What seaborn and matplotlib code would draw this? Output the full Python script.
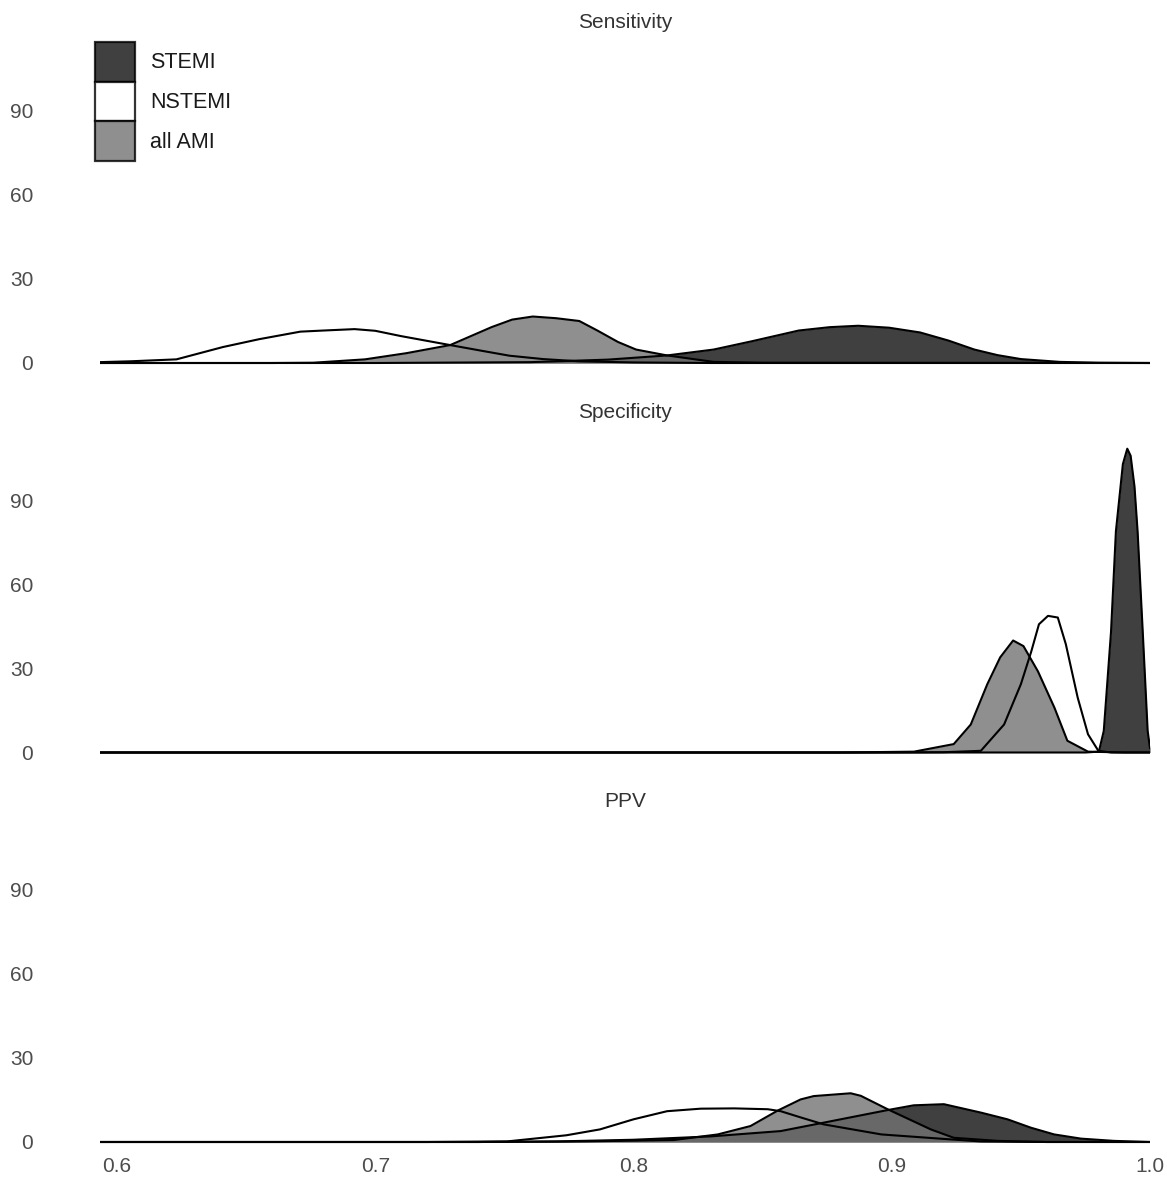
import seaborn as sns
import matplotlib.pyplot as plt
from matplotlib.patches import Patch

# density curves (x = metric value, y = density)
sens_stemi_x = [0.593, 0.70, 0.76, 0.79, 0.813, 0.831, 0.846, 0.864, 0.876, 0.887, 0.899, 0.911, 0.922, 0.932, 0.941, 0.950, 0.965, 0.98, 1.0]
sens_stemi_y = [0, 0, 0.3, 1.2, 2.7, 4.8, 7.8, 11.6, 12.8, 13.3, 12.6, 10.9, 8.0, 4.8, 2.8, 1.4, 0.4, 0.1, 0]
sens_nstemi_x = [0.593, 0.605, 0.623, 0.641, 0.655, 0.671, 0.680, 0.692, 0.700, 0.710, 0.729, 0.741, 0.752, 0.765, 0.779, 0.80, 0.83, 1.0]
sens_nstemi_y = [0.3, 0.6, 1.3, 5.7, 8.5, 11.2, 11.6, 12.1, 11.5, 9.6, 6.4, 4.4, 2.6, 1.4, 0.6, 0.2, 0, 0]
sens_all_x = [0.593, 0.66, 0.676, 0.696, 0.712, 0.729, 0.745, 0.753, 0.761, 0.770, 0.779, 0.786, 0.794, 0.801, 0.813, 0.831, 0.85, 1.0]
sens_all_y = [0, 0, 0.1, 1.3, 3.5, 6.4, 12.8, 15.5, 16.6, 16.0, 15.0, 11.6, 7.5, 4.8, 2.7, 0.4, 0.1, 0]

spec_stemi_x = [0.593, 0.975, 0.9802, 0.9821, 0.9849, 0.9868, 0.9895, 0.9912, 0.9925, 0.9940, 0.9952, 0.9972, 0.9991, 1.0]
spec_stemi_y = [0, 0, 0.3, 7.7, 43, 79, 103, 108.5, 106, 95, 79, 43, 7.7, 1.5]
spec_nstemi_x = [0.593, 0.90, 0.92, 0.9345, 0.9435, 0.950, 0.954, 0.957, 0.9605, 0.9643, 0.9674, 0.972, 0.976, 0.980, 0.985, 1.0]
spec_nstemi_y = [0, 0, 0.1, 0.6, 10, 24.4, 36, 45.8, 48.8, 48.2, 38.7, 19.6, 6.5, 0.6, 0, 0]
spec_all_x = [0.593, 0.88, 0.9086, 0.924, 0.9306, 0.937, 0.942, 0.947, 0.951, 0.9566, 0.963, 0.968, 0.976, 0.99, 1.0]
spec_all_y = [0, 0, 0.3, 3, 10, 24.4, 34, 40, 38, 29, 16, 4.2, 0.3, 0, 0]

ppv_stemi_x = [0.593, 0.74, 0.77, 0.80, 0.83, 0.857, 0.8736, 0.8984, 0.9085, 0.9202, 0.9345, 0.9448, 0.9539, 0.9629, 0.9733, 0.986, 1.0]
ppv_stemi_y = [0, 0, 0.2, 0.8, 2.0, 3.9, 6.9, 11.4, 13.1, 13.5, 10.5, 8.1, 5.1, 2.7, 1.2, 0.4, 0]
ppv_nstemi_x = [0.593, 0.72, 0.751, 0.774, 0.787, 0.800, 0.813, 0.826, 0.839, 0.852, 0.857, 0.865, 0.8736, 0.896, 0.9217, 0.9345, 0.96, 1.0]
ppv_nstemi_y = [0, 0, 0.2, 2.4, 4.5, 8.1, 11.0, 11.9, 12.0, 11.7, 11.0, 8.7, 6.3, 2.7, 1.0, 0.2, 0, 0]
ppv_all_x = [0.593, 0.74, 0.78, 0.8155, 0.8326, 0.8453, 0.8558, 0.8647, 0.8698, 0.8841, 0.888, 0.8984, 0.9151, 0.924, 0.941, 0.96, 1.0]
ppv_all_y = [0, 0, 0.2, 0.7, 2.7, 5.7, 11.2, 15.2, 16.4, 17.4, 16.5, 11.7, 4.5, 1.5, 0.4, 0, 0]

groups = ['STEMI', 'NSTEMI', 'all AMI']
fills = {'STEMI': '#101010', 'NSTEMI': '#ffffff', 'all AMI': '#737373'}
panels = [
    ('Sensitivity', {'STEMI': (sens_stemi_x, sens_stemi_y), 'NSTEMI': (sens_nstemi_x, sens_nstemi_y), 'all AMI': (sens_all_x, sens_all_y)}),
    ('Specificity', {'STEMI': (spec_stemi_x, spec_stemi_y), 'NSTEMI': (spec_nstemi_x, spec_nstemi_y), 'all AMI': (spec_all_x, spec_all_y)}),
    ('PPV', {'STEMI': (ppv_stemi_x, ppv_stemi_y), 'NSTEMI': (ppv_nstemi_x, ppv_nstemi_y), 'all AMI': (ppv_all_x, ppv_all_y)}),
]
yticks = [0, 30, 60, 90]
xticks = [0.6, 0.7, 0.8, 0.9, 1.0]
xticklabels = ['0.6', '0.7', '0.8', '0.9', '1.0']

sns.set_theme(style='white')
plt.rcParams['font.family'] = ['Liberation Sans', 'DejaVu Sans']

fig = plt.figure(figsize=(11.67, 11.88), dpi=100)
bottoms = [0.69091, 0.36305, 0.03519]
draw_order = ['NSTEMI', 'STEMI', 'all AMI']

for i, (title, data) in enumerate(panels):
    ax = fig.add_axes([0.08569, bottoms[i], 0.89974, 0.27458])
    for g in draw_order:
        xs, ys = data[g]
        ax.fill_between(xs, 0, ys, color=fills[g], alpha=0.8, lw=0)
        sns.lineplot(x=xs, y=ys, ax=ax, color='black', lw=1.5, sort=False)
    ax.set_xlim(0.5934, 1.0)
    ax.set_ylim(-1.5, 115)
    ax.set_yticks(yticks)
    ax.set_yticklabels([str(t) for t in yticks])
    ax.tick_params(axis='y', length=0, pad=48, labelsize=15, labelcolor='#4d4d4d')
    if i == 2:
        ax.set_xticks(xticks)
        ax.set_xticklabels(xticklabels)
        ax.tick_params(axis='x', length=0, pad=8, labelsize=15, labelcolor='#4d4d4d')
    else:
        ax.set_xticks([])
    for s in ax.spines.values():
        s.set_visible(False)
    ax.set_title(title, fontsize=15, color='#333333', pad=9)
    ax.set_xlabel('')
    ax.set_ylabel('')

    if i == 0:
        handles = [Patch(facecolor=fills[g], edgecolor='black', alpha=0.8, lw=1.6, label=g) for g in groups]
        leg = ax.legend(handles=handles, loc='upper left', bbox_to_anchor=(0.0814, 0.9646),
                        bbox_transform=fig.transFigure, frameon=False, fontsize=15.5,
                        handlelength=1.85, handleheight=2.45, labelspacing=0.0,
                        handletextpad=0.7, borderpad=0, borderaxespad=0)
        for t in leg.get_texts():
            t.set_color('#1a1a1a')
        for h in leg.legend_handles:
            h.set_edgecolor((0, 0, 0, 1))

fig.savefig('out.png', dpi=100)
